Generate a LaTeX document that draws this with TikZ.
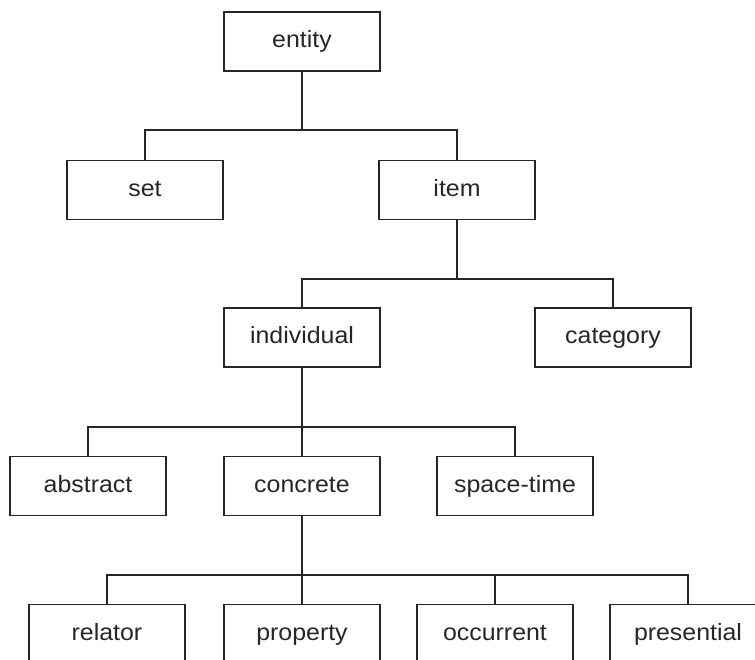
\documentclass[tikz,border=0pt]{standalone}
\usepackage{fontspec}
\setmainfont[FakeStretch=1.06]{Liberation Sans}
\begin{document}
\begin{tikzpicture}[x=1pt,y=-1pt,
  box/.style={draw=black!85, line width=1.6pt, minimum width=156pt, minimum height=59pt,
    inner sep=0pt, text height=12pt, text depth=0pt, font=\fontsize{23.5}{27}\selectfont, text=black!85},
  link/.style={draw=black!85, line width=1.5pt}]
\useasboundingbox (0,0) rectangle (755,659);
\clip (0,0) rectangle (755,659);

% hierarchy levels (box centres)
\node[box] (entity)     at (302,41.5)  {entity};

\node[box] (set)        at (145,190)   {set};
\node[box] (item)       at (457,190)   {item};

\node[box] (individual) at (302,337.5) {individual};
\node[box] (category)   at (613,337.5) {category};

\node[box] (abstract)   at (88,486)    {abstract};
\node[box] (concrete)   at (302,486)   {concrete};
\node[box] (spacetime)  at (515,486)   {space-time};

\node[box] (relator)    at (107,634)   {relator};
\node[box] (property)   at (302,634)   {property};
\node[box] (occurrent)  at (495,634)   {occurrent};
\node[box] (presential) at (688,634)   {presential};

% horizontal bus heights
\coordinate (b1) at (0,130);
\coordinate (b2) at (0,279);
\coordinate (b3) at (0,427);
\coordinate (b4) at (0,575);

% entity -> set, item
\draw[link] (entity.south) -- (entity.south |- b1);
\draw[link] (set.north) |- (item.north |- b1) -- (item.north);

% item -> individual, category
\draw[link] (item.south) -- (item.south |- b2);
\draw[link] (individual.north) |- (category.north |- b2) -- (category.north);

% individual -> abstract, concrete, space-time
\draw[link] (individual.south) -- (concrete.north);
\draw[link] (abstract.north) |- (spacetime.north |- b3) -- (spacetime.north);

% concrete -> relator, property, occurrent, presential
\draw[link] (concrete.south) -- (property.north);
\draw[link] (relator.north) |- (presential.north |- b4) -- (presential.north);
\draw[link] (occurrent.north) -- (occurrent.north |- b4);
\end{tikzpicture}
\end{document}
